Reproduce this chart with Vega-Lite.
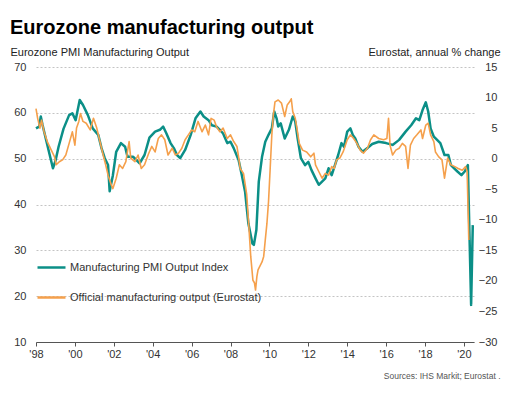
{
  "$schema": "https://vega.github.io/schema/vega-lite/v6.json",
  "width": 438,
  "height": 275,
  "autosize": {"type": "none"},
  "padding": {"left": 36, "top": 67, "right": 39, "bottom": 55},
  "background": "white",
  "config": {
    "font": "Liberation Sans",
    "view": {"stroke": null},
    "axis": {"labelFont": "Liberation Sans", "titleFont": "Liberation Sans"},
    "legend": {"labelFont": "Liberation Sans"}
  },
  "title": {
    "text": "Eurozone manufacturing output",
    "anchor": "start",
    "frame": "group",
    "fontSize": 20,
    "fontWeight": "bold",
    "font": "Liberation Sans",
    "color": "#000000",
    "dx": -26,
    "offset": 8
  },
  "datasets": {
    "pmi": [
      {"date": "1998-01-01", "value": 56.6},
      {"date": "1998-03-01", "value": 57.0},
      {"date": "1998-04-01", "value": 59.2},
      {"date": "1998-05-01", "value": 57.5},
      {"date": "1998-07-01", "value": 54.5},
      {"date": "1998-09-01", "value": 51.5},
      {"date": "1998-11-15", "value": 47.9},
      {"date": "1999-01-01", "value": 49.5},
      {"date": "1999-03-01", "value": 52.6},
      {"date": "1999-06-01", "value": 56.5},
      {"date": "1999-09-15", "value": 59.5},
      {"date": "1999-11-15", "value": 59.9},
      {"date": "2000-01-15", "value": 58.4},
      {"date": "2000-04-01", "value": 62.8},
      {"date": "2000-06-01", "value": 61.7},
      {"date": "2000-09-01", "value": 59.5},
      {"date": "2000-12-01", "value": 56.6},
      {"date": "2001-03-15", "value": 55.2},
      {"date": "2001-05-15", "value": 52.3},
      {"date": "2001-07-15", "value": 50.1},
      {"date": "2001-09-15", "value": 48.6},
      {"date": "2001-10-15", "value": 42.9},
      {"date": "2001-12-15", "value": 46.4},
      {"date": "2002-02-15", "value": 51.5},
      {"date": "2002-05-15", "value": 53.4},
      {"date": "2002-08-01", "value": 52.6},
      {"date": "2002-09-15", "value": 50.4},
      {"date": "2003-01-01", "value": 50.4},
      {"date": "2003-05-01", "value": 49.0},
      {"date": "2003-08-01", "value": 50.8},
      {"date": "2003-11-01", "value": 54.6},
      {"date": "2004-02-15", "value": 55.9},
      {"date": "2004-05-15", "value": 56.3},
      {"date": "2004-07-15", "value": 57.0},
      {"date": "2004-09-15", "value": 55.5},
      {"date": "2004-12-01", "value": 53.4},
      {"date": "2005-02-01", "value": 52.3},
      {"date": "2005-04-01", "value": 50.8},
      {"date": "2005-06-01", "value": 50.1},
      {"date": "2005-09-01", "value": 51.9},
      {"date": "2005-12-15", "value": 55.2},
      {"date": "2006-03-15", "value": 58.8},
      {"date": "2006-06-15", "value": 60.3},
      {"date": "2006-08-15", "value": 59.2},
      {"date": "2006-11-15", "value": 58.4},
      {"date": "2007-01-15", "value": 57.3},
      {"date": "2007-04-15", "value": 57.0},
      {"date": "2007-06-15", "value": 56.3},
      {"date": "2007-08-15", "value": 55.5},
      {"date": "2007-11-01", "value": 53.4},
      {"date": "2008-01-01", "value": 53.7},
      {"date": "2008-03-01", "value": 52.3},
      {"date": "2008-06-01", "value": 49.7},
      {"date": "2008-08-01", "value": 46.4},
      {"date": "2008-10-01", "value": 42.8},
      {"date": "2008-12-01", "value": 35.9},
      {"date": "2009-02-15", "value": 31.5},
      {"date": "2009-03-15", "value": 31.2},
      {"date": "2009-05-01", "value": 34.5},
      {"date": "2009-06-15", "value": 45.0},
      {"date": "2009-08-15", "value": 50.4},
      {"date": "2009-10-15", "value": 53.7},
      {"date": "2009-12-15", "value": 55.2},
      {"date": "2010-02-15", "value": 56.6},
      {"date": "2010-04-01", "value": 60.3},
      {"date": "2010-05-15", "value": 58.8},
      {"date": "2010-06-15", "value": 57.0},
      {"date": "2010-08-01", "value": 57.7},
      {"date": "2010-10-15", "value": 54.4},
      {"date": "2011-01-01", "value": 56.3},
      {"date": "2011-03-15", "value": 59.2},
      {"date": "2011-05-01", "value": 58.1},
      {"date": "2011-06-15", "value": 54.4},
      {"date": "2011-08-15", "value": 50.1},
      {"date": "2011-11-01", "value": 48.6},
      {"date": "2012-01-01", "value": 49.3},
      {"date": "2012-03-01", "value": 47.5},
      {"date": "2012-05-15", "value": 45.7},
      {"date": "2012-07-15", "value": 44.3},
      {"date": "2012-09-15", "value": 45.0},
      {"date": "2012-11-15", "value": 45.7},
      {"date": "2013-01-15", "value": 47.9},
      {"date": "2013-03-15", "value": 46.4},
      {"date": "2013-05-15", "value": 48.6},
      {"date": "2013-07-15", "value": 50.8},
      {"date": "2013-09-15", "value": 53.4},
      {"date": "2013-11-01", "value": 52.6},
      {"date": "2014-01-01", "value": 55.9},
      {"date": "2014-03-01", "value": 56.6},
      {"date": "2014-04-15", "value": 55.2},
      {"date": "2014-06-01", "value": 54.4},
      {"date": "2014-08-01", "value": 52.6},
      {"date": "2014-10-15", "value": 51.5},
      {"date": "2015-01-15", "value": 52.3},
      {"date": "2015-04-15", "value": 53.2},
      {"date": "2015-08-15", "value": 53.7},
      {"date": "2016-01-01", "value": 53.4},
      {"date": "2016-05-01", "value": 53.0},
      {"date": "2016-09-01", "value": 54.1},
      {"date": "2017-01-01", "value": 55.9},
      {"date": "2017-04-15", "value": 57.3},
      {"date": "2017-07-15", "value": 58.8},
      {"date": "2017-09-15", "value": 58.4},
      {"date": "2017-11-15", "value": 60.6},
      {"date": "2018-01-15", "value": 62.3},
      {"date": "2018-03-01", "value": 60.3},
      {"date": "2018-04-15", "value": 56.6},
      {"date": "2018-06-15", "value": 54.8},
      {"date": "2018-08-15", "value": 54.1},
      {"date": "2018-10-15", "value": 53.4},
      {"date": "2019-01-01", "value": 50.8},
      {"date": "2019-03-15", "value": 50.8},
      {"date": "2019-05-01", "value": 48.6},
      {"date": "2019-07-01", "value": 47.9},
      {"date": "2019-09-01", "value": 47.2},
      {"date": "2019-11-15", "value": 46.4},
      {"date": "2020-01-15", "value": 47.2},
      {"date": "2020-03-15", "value": 48.6},
      {"date": "2020-04-15", "value": 33.0},
      {"date": "2020-05-15", "value": 18.1},
      {"date": "2020-06-15", "value": 35.5}
    ],
    "eurostat": [
      {"date": "1998-01-01", "value": 8.2},
      {"date": "1998-02-01", "value": 6.6},
      {"date": "1998-03-15", "value": 5.0},
      {"date": "1998-04-15", "value": 6.3},
      {"date": "1998-06-01", "value": 4.4},
      {"date": "1998-08-01", "value": 2.8},
      {"date": "1998-10-15", "value": 1.4},
      {"date": "1998-12-15", "value": 0.3},
      {"date": "1999-01-15", "value": -1.0},
      {"date": "1999-03-15", "value": -0.5},
      {"date": "1999-05-15", "value": -0.2},
      {"date": "1999-07-15", "value": 0.6},
      {"date": "1999-09-15", "value": 2.5},
      {"date": "1999-11-15", "value": 4.4},
      {"date": "2000-01-01", "value": 2.2},
      {"date": "2000-02-01", "value": 5.0},
      {"date": "2000-03-15", "value": 6.1},
      {"date": "2000-04-15", "value": 7.4},
      {"date": "2000-06-01", "value": 6.1},
      {"date": "2000-08-01", "value": 5.8},
      {"date": "2000-10-15", "value": 4.7},
      {"date": "2000-12-15", "value": 6.6},
      {"date": "2001-02-15", "value": 5.0},
      {"date": "2001-04-15", "value": 2.8},
      {"date": "2001-06-15", "value": 0.6},
      {"date": "2001-08-01", "value": -1.0},
      {"date": "2001-09-15", "value": -2.7},
      {"date": "2001-11-15", "value": -4.3},
      {"date": "2001-12-15", "value": -4.9},
      {"date": "2002-02-15", "value": -3.2},
      {"date": "2002-04-15", "value": -1.0},
      {"date": "2002-06-15", "value": -1.6},
      {"date": "2002-08-15", "value": -0.5},
      {"date": "2002-10-15", "value": 2.8},
      {"date": "2002-11-15", "value": 0.1},
      {"date": "2003-02-01", "value": -0.5},
      {"date": "2003-04-01", "value": 0.6},
      {"date": "2003-06-01", "value": -1.6},
      {"date": "2003-08-01", "value": -1.0},
      {"date": "2003-10-15", "value": 0.8},
      {"date": "2003-12-15", "value": 2.0},
      {"date": "2004-02-15", "value": 1.1},
      {"date": "2004-04-15", "value": 3.3},
      {"date": "2004-06-15", "value": 3.9},
      {"date": "2004-08-15", "value": 3.1},
      {"date": "2004-10-15", "value": 0.6},
      {"date": "2005-01-01", "value": 1.7},
      {"date": "2005-03-01", "value": 0.6},
      {"date": "2005-05-01", "value": 0.9},
      {"date": "2005-07-01", "value": 1.7},
      {"date": "2005-09-01", "value": 3.1},
      {"date": "2005-11-01", "value": 3.9},
      {"date": "2006-01-01", "value": 4.7},
      {"date": "2006-03-01", "value": 4.4},
      {"date": "2006-05-01", "value": 6.1},
      {"date": "2006-07-15", "value": 4.4},
      {"date": "2006-09-15", "value": 5.5},
      {"date": "2006-11-15", "value": 3.9},
      {"date": "2007-01-01", "value": 6.6},
      {"date": "2007-03-01", "value": 6.3},
      {"date": "2007-04-15", "value": 5.2},
      {"date": "2007-06-15", "value": 4.4},
      {"date": "2007-08-15", "value": 5.0},
      {"date": "2007-11-01", "value": 3.3},
      {"date": "2008-01-01", "value": 3.9},
      {"date": "2008-03-01", "value": 2.8},
      {"date": "2008-05-01", "value": 2.0},
      {"date": "2008-06-01", "value": 0.3},
      {"date": "2008-07-01", "value": -1.6},
      {"date": "2008-09-01", "value": -2.4},
      {"date": "2008-11-01", "value": -5.9},
      {"date": "2008-12-15", "value": -11.7},
      {"date": "2009-01-15", "value": -16.0},
      {"date": "2009-02-25", "value": -19.9},
      {"date": "2009-03-25", "value": -20.3},
      {"date": "2009-04-15", "value": -21.5},
      {"date": "2009-05-10", "value": -19.3},
      {"date": "2009-06-01", "value": -18.2},
      {"date": "2009-08-15", "value": -16.9},
      {"date": "2009-09-15", "value": -16.0},
      {"date": "2009-10-15", "value": -13.3},
      {"date": "2009-11-15", "value": -10.6},
      {"date": "2009-12-15", "value": -7.0},
      {"date": "2010-01-15", "value": -1.6},
      {"date": "2010-02-15", "value": 3.9},
      {"date": "2010-03-15", "value": 7.1},
      {"date": "2010-04-15", "value": 9.3},
      {"date": "2010-06-15", "value": 9.6},
      {"date": "2010-08-15", "value": 9.1},
      {"date": "2010-10-15", "value": 6.9},
      {"date": "2010-12-01", "value": 8.8},
      {"date": "2011-01-15", "value": 9.3},
      {"date": "2011-02-15", "value": 9.8},
      {"date": "2011-03-15", "value": 7.7},
      {"date": "2011-05-01", "value": 6.6},
      {"date": "2011-06-01", "value": 5.0},
      {"date": "2011-07-15", "value": 2.5},
      {"date": "2011-09-15", "value": 1.4},
      {"date": "2011-12-01", "value": 1.1},
      {"date": "2012-02-15", "value": 0.3},
      {"date": "2012-04-15", "value": 0.9},
      {"date": "2012-05-15", "value": -1.0},
      {"date": "2012-07-15", "value": -2.1},
      {"date": "2012-09-15", "value": -3.2},
      {"date": "2012-11-15", "value": -2.4},
      {"date": "2013-01-15", "value": -2.7},
      {"date": "2013-03-15", "value": -1.3},
      {"date": "2013-05-01", "value": -1.6},
      {"date": "2013-06-15", "value": -0.2},
      {"date": "2013-08-15", "value": 0.1},
      {"date": "2013-10-15", "value": 1.1},
      {"date": "2014-01-01", "value": 3.1},
      {"date": "2014-03-01", "value": 3.9},
      {"date": "2014-05-01", "value": 3.3},
      {"date": "2014-07-01", "value": 2.5},
      {"date": "2014-09-01", "value": 1.4},
      {"date": "2014-11-01", "value": 0.9},
      {"date": "2015-01-15", "value": 1.7},
      {"date": "2015-03-15", "value": 3.1},
      {"date": "2015-05-15", "value": 3.9},
      {"date": "2015-08-15", "value": 3.3},
      {"date": "2015-11-15", "value": 3.1},
      {"date": "2016-01-15", "value": 3.3},
      {"date": "2016-02-15", "value": 6.6},
      {"date": "2016-03-15", "value": 2.2},
      {"date": "2016-05-01", "value": 0.6},
      {"date": "2016-07-01", "value": 1.4},
      {"date": "2016-09-01", "value": 1.7},
      {"date": "2016-11-01", "value": 2.5},
      {"date": "2017-01-01", "value": 2.0},
      {"date": "2017-02-15", "value": -1.6},
      {"date": "2017-04-01", "value": 2.2},
      {"date": "2017-06-01", "value": 3.3},
      {"date": "2017-08-01", "value": 3.9},
      {"date": "2017-10-15", "value": 4.7},
      {"date": "2017-11-15", "value": 3.3},
      {"date": "2018-01-15", "value": 5.5},
      {"date": "2018-03-01", "value": 5.8},
      {"date": "2018-04-15", "value": 3.9},
      {"date": "2018-06-15", "value": 2.8},
      {"date": "2018-07-15", "value": 1.1},
      {"date": "2018-09-15", "value": 0.3},
      {"date": "2018-11-15", "value": -0.2},
      {"date": "2019-01-01", "value": -3.2},
      {"date": "2019-03-01", "value": 0.1},
      {"date": "2019-05-01", "value": -1.0},
      {"date": "2019-07-15", "value": -1.3},
      {"date": "2019-09-15", "value": -1.6},
      {"date": "2019-12-01", "value": -1.9},
      {"date": "2020-02-01", "value": -1.3},
      {"date": "2020-03-01", "value": -2.1},
      {"date": "2020-04-01", "value": -13.3}
    ]
  },
  "layer": [
    {
      "data": {"name": "pmi"},
      "mark": {"type": "line", "strokeWidth": 2.5, "strokeJoin": "round"},
      "encoding": {
        "x": {
          "field": "date",
          "type": "temporal",
          "scale": {"type": "utc", "domain": [{"year": 1998, "month": 1, "date": 1, "utc": true}, {"year": 2020, "month": 7, "date": 8, "utc": true}]},
          "axis": {
            "orient": "bottom",
            "format": "'%y",
            "tickCount": {"interval": "year", "step": 2},
            "grid": false,
            "domainColor": "#555555",
            "tickColor": "#555555",
            "tickSize": 4,
            "labelFontSize": 11,
            "labelColor": "#333333",
            "labelPadding": 2,
            "labelFlush": false,
            "title": "Sources: IHS Markit; Eurostat .",
            "titleX": 464,
            "titleY": 36,
            "titleAlign": "right",
            "titleBaseline": "alphabetic",
            "titleFontSize": 8.5,
            "titleFontWeight": "normal",
            "titleColor": "#555555"
          }
        },
        "y": {
          "field": "value",
          "type": "quantitative",
          "scale": {"domain": [10, 70], "nice": false, "zero": false},
          "axis": {
            "orient": "left",
            "values": [10, 20, 30, 40, 50, 60, 70],
            "grid": true,
            "gridDash": [2, 2],
            "gridColor": "#c4c4c4",
            "domain": false,
            "ticks": false,
            "labelPadding": 10,
            "labelFontSize": 11,
            "labelColor": "#333333",
            "title": "Eurozone PMI Manufacturing Output",
            "titleAngle": 0,
            "titleAlign": "left",
            "titleBaseline": "alphabetic",
            "titleX": -26,
            "titleY": -12,
            "titleFontSize": 11,
            "titleFontWeight": "normal",
            "titleColor": "#222222"
          }
        },
        "color": {
          "datum": "Manufacturing PMI Output Index",
          "type": "nominal",
          "scale": {"domain": ["Manufacturing PMI Output Index", "Official manufacturing output (Eurostat)"], "range": ["#0b8f87", "#f5a04c"]},
          "legend": {
            "orient": "none",
            "legendX": 0,
            "legendY": 185,
            "direction": "vertical",
            "title": null,
            "symbolType": "stroke",
            "symbolSize": 784,
            "symbolStrokeWidth": 2.5,
            "labelFontSize": 11,
            "labelColor": "#333333",
            "labelOffset": 3,
            "labelLimit": 0,
            "rowPadding": 9,
            "padding": 0
          }
        }
      }
    },
    {
      "data": {"name": "eurostat"},
      "mark": {"type": "line", "strokeWidth": 1.6, "strokeJoin": "round"},
      "encoding": {
        "x": {"field": "date", "type": "temporal"},
        "y": {
          "field": "value",
          "type": "quantitative",
          "scale": {"domain": [-30, 15], "nice": false, "zero": false},
          "axis": {
            "orient": "right",
            "values": [-30, -25, -20, -15, -10, -5, 0, 5, 10, 15],
            "grid": false,
            "domain": false,
            "ticks": false,
            "labelAlign": "right",
            "labelPadding": 23,
            "labelFontSize": 11,
            "labelColor": "#333333",
            "title": "Eurostat, annual % change",
            "titleAngle": 0,
            "titleAlign": "right",
            "titleBaseline": "alphabetic",
            "titleX": 26,
            "titleY": -12,
            "titleFontSize": 11,
            "titleFontWeight": "normal",
            "titleColor": "#222222"
          }
        },
        "color": {"datum": "Official manufacturing output (Eurostat)", "type": "nominal"}
      }
    }
  ],
  "resolve": {"scale": {"y": "independent"}}
}
